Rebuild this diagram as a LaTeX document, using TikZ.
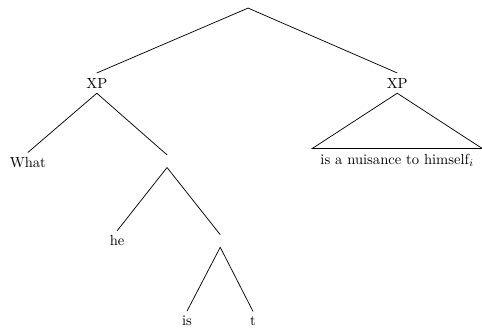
\documentclass[tikz,border=0pt]{standalone}
\usetikzlibrary{positioning}

\begin{document}
\begin{tikzpicture}[
  word/.style={inner sep=3.33pt, align=center},
  gap/.style={inner sep=0pt, minimum width=0pt, minimum height=0.29cm},
  branch/.style={draw, line width=0.5pt},
]

\useasboundingbox (0,0) rectangle (11.60,7.92);

% nodes of the tree
\node[inner sep=0pt] (root) at (5.97, 7.75) {};
\node[word] (xpl)  at (2.33, 5.92) {XP};
\node[word] (xpr)  at (9.56, 5.92) {XP};
\node[word] (what) at (0.67, 4.00) {What};
\node[gap]  (n1)   at (4.02, 4.04) {};
\node[word] (he)   at (2.82, 2.12) {he};
\node[gap]  (n2)   at (5.30, 2.12) {};
\node[word] (is)   at (4.50, 0.19) {is};
\node[word] (t)    at (6.09, 0.19) {t};
\node[word, inner xsep=5.5pt] (pred) at (9.56, 4.07) {is a nuisance to himself$_i$};

% branches
\draw[branch] (root.south) -- (xpl.north);
\draw[branch] (root.south) -- (xpr.north);
\draw[branch] (xpl.south) -- (what.north);
\draw[branch] (xpl.south) -- (n1.north);
\draw[branch] (n1.south) -- (he.north);
\draw[branch] (n1.south) -- (n2.north);
\draw[branch] (n2.south) -- (is.north);
\draw[branch] (n2.south) -- (t.north);

% roof over the predicate
\draw[branch] (xpr.south) -- (pred.north west) -- (pred.north east) -- cycle;

\end{tikzpicture}
\end{document}
